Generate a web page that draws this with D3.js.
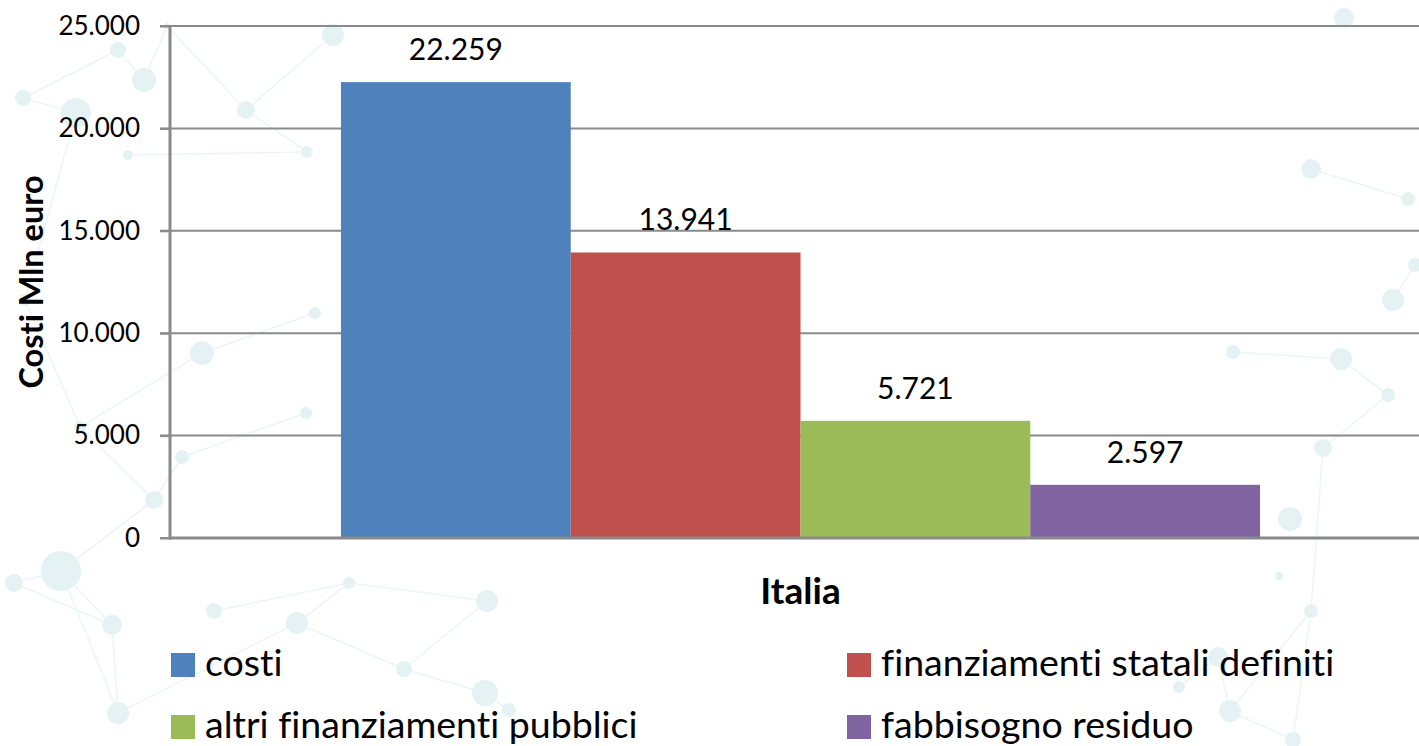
<!DOCTYPE html>
<meta charset="utf-8">
<head>
	<title>Costi Italia</title>
</head>

<style>

body{
	margin: 0;
	background: #fff;
}

svg{
	display: block;
	font-family: Lato, "Noto Sans", sans-serif;
	font-variant-ligatures: none;
}

.grid line{
	stroke: #8a8a8a;
	stroke-width: 2;
}

.decor circle{
	fill: #e5f2f4;
}

.decor line{
	stroke: #edf6f7;
	stroke-width: 1.6;
}

</style>

<body>

<svg width="1419" height="746"></svg>

<script src="https://cdnjs.cloudflare.com/ajax/libs/d3/7.8.5/d3.min.js"></script>
<script>

// dati
var categories = ["Italia"];
var series = ["costi", "finanziamenti statali definiti", "altri finanziamenti pubblici", "fabbisogno residuo"];
var values = [22259, 13941, 5721, 2597];
var colors = ["#4f81bd", "#c0504d", "#9bbb59", "#8064a2"];
var yTicks = [0, 5000, 10000, 15000, 20000, 25000];

// sfondo decorativo (rete di punti)
var decorNodes = [
	[118,50,8],[144,80,12],[23,98,8],[76,113,15],[246,110,9],[307,152,6],[128,155,5],[333,35,11],[167,26,3],
	[202,353,12],[315,313,6],[306,413,6],[182,457,7],[154,500,9],[61,571,20],[14,583,9],[112,625,10],[118,713,11],
	[214,611,8],[297,623,11],[349,583,6],[487,601,11],[404,669,8],[485,693,13],[509,710,7],
	[1344,18,10],[1311,169,10],[1408,199,7],[1415,265,7],[1393,300,11],[1233,352,7],[1341,359,11],[1388,395,7],
	[1323,448,9],[1290,519,12],[1279,576,4],[1311,611,7],[1230,711,11],[1179,687,6],[1218,657,10],[1293,740,8],
	[80,427,6],[25,300,6]
];
var decorEdges = [
	[2,0],[0,1],[1,8],[8,4],[4,5],[6,5],[4,7],[2,3],[3,42],[42,41],[9,10],[11,12],[12,13],[13,41],[41,9],
	[14,15],[14,16],[14,17],[16,17],[16,15],[14,13],[18,20],[20,19],[19,22],[20,21],[21,22],[22,23],[23,24],[19,17],
	[33,36],[36,37],[36,40],[37,40],[37,39],[39,38],[26,27],[30,31],[31,32],[29,28],[33,32]
];

var fmt = function(v){ return d3.format(",")(v).replace(/,/g, "."); };

var svg = d3.select("svg");

var decor = svg.append("g").attr("class", "decor");

decor.selectAll("line")
	.data(decorEdges)
	.enter().append("line")
	.attr("x1", function(d){ return decorNodes[d[0]][0]; })
	.attr("y1", function(d){ return decorNodes[d[0]][1]; })
	.attr("x2", function(d){ return decorNodes[d[1]][0]; })
	.attr("y2", function(d){ return decorNodes[d[1]][1]; });

decor.selectAll("circle")
	.data(decorNodes)
	.enter().append("circle")
	.attr("cx", function(d){ return d[0]; })
	.attr("cy", function(d){ return d[1]; })
	.attr("r", function(d){ return d[2]; });

var mLeft = 170, mRight = 1431, mTop = 26, mBottom = 538;

var y = d3.scaleLinear()
	.domain([0, 25000])
	.range([mBottom, mTop]);

var x0 = d3.scaleBand()
	.domain(categories)
	.range([mLeft, mRight])
	.paddingOuter(0.186);

var x1 = d3.scaleBand()
	.domain(series)
	.range([0, x0.bandwidth()]);

// griglia
svg.append("g")
	.attr("class", "grid")
	.selectAll("line")
	.data(yTicks)
	.enter().append("line")
	.attr("x1", mLeft - 10)
	.attr("x2", 1419)
	.attr("y1", function(d){ return y(d); })
	.attr("y2", function(d){ return y(d); });

// asse y
var yAxis = svg.append("g")
	.attr("transform", "translate(" + mLeft + ",0)")
	.call(d3.axisLeft(y).tickValues(yTicks).tickFormat(fmt).tickSize(10).tickPadding(20));

yAxis.select(".domain").remove();
yAxis.selectAll(".tick line").attr("stroke", "#8a8a8a").attr("stroke-width", 2);
yAxis.selectAll(".tick text")
	.attr("fill", "#000")
	.style("font-size", "26px")
	.style("font-family", "Lato, sans-serif");

// barre
var group = svg.append("g")
	.selectAll("g")
	.data(categories)
	.enter().append("g")
	.attr("transform", function(d){ return "translate(" + x0(d) + ",0)"; });

group.selectAll("rect")
	.data(function(){ return series.map(function(s, i){ return {key: s, value: values[i], color: colors[i]}; }); })
	.enter().append("rect")
	.attr("x", function(d){ return x1(d.key); })
	.attr("y", function(d){ return y(d.value); })
	.attr("width", x1.bandwidth())
	.attr("height", function(d){ return y(0) - y(d.value); })
	.attr("fill", function(d){ return d.color; });

group.selectAll("text.val")
	.data(function(){ return series.map(function(s, i){ return {key: s, value: values[i]}; }); })
	.enter().append("text")
	.attr("class", "val")
	.attr("x", function(d){ return x1(d.key) + x1.bandwidth() / 2; })
	.attr("y", function(d){ return y(d.value) - 22; })
	.attr("text-anchor", "middle")
	.style("font-size", "30px")
	.text(function(d){ return fmt(d.value); });

// assi
svg.append("line")
	.attr("x1", mLeft).attr("x2", mLeft)
	.attr("y1", mTop).attr("y2", mBottom + 1.5)
	.attr("stroke", "#8a8a8a").attr("stroke-width", 3);

svg.append("line")
	.attr("x1", mLeft).attr("x2", 1419)
	.attr("y1", mBottom).attr("y2", mBottom)
	.attr("stroke", "#8a8a8a").attr("stroke-width", 3);

// titoli
svg.append("text")
	.attr("x", x0("Italia") + x0.bandwidth() / 2)
	.attr("y", 604)
	.attr("text-anchor", "middle")
	.style("font-size", "37px")
	.style("font-weight", "bold")
	.text("Italia");

svg.append("text")
	.attr("transform", "translate(43,282) rotate(-90)")
	.attr("text-anchor", "middle")
	.style("font-size", "32.5px")
	.style("font-weight", "bold")
	.text("Costi Mln euro");

// legenda
var legend = svg.append("g")
	.selectAll("g")
	.data(series)
	.enter().append("g")
	.attr("transform", function(d, i){
		return "translate(" + (i % 2 ? 847 : 171) + "," + (i < 2 ? 653 : 715) + ")";
	});

legend.append("rect")
	.attr("width", 24)
	.attr("height", 24)
	.attr("fill", function(d, i){ return colors[i]; });

legend.append("text")
	.attr("x", 34)
	.attr("y", 23)
	.style("font-size", "37.5px")
	.text(function(d){ return d; });

</script>

</body>
</html>
